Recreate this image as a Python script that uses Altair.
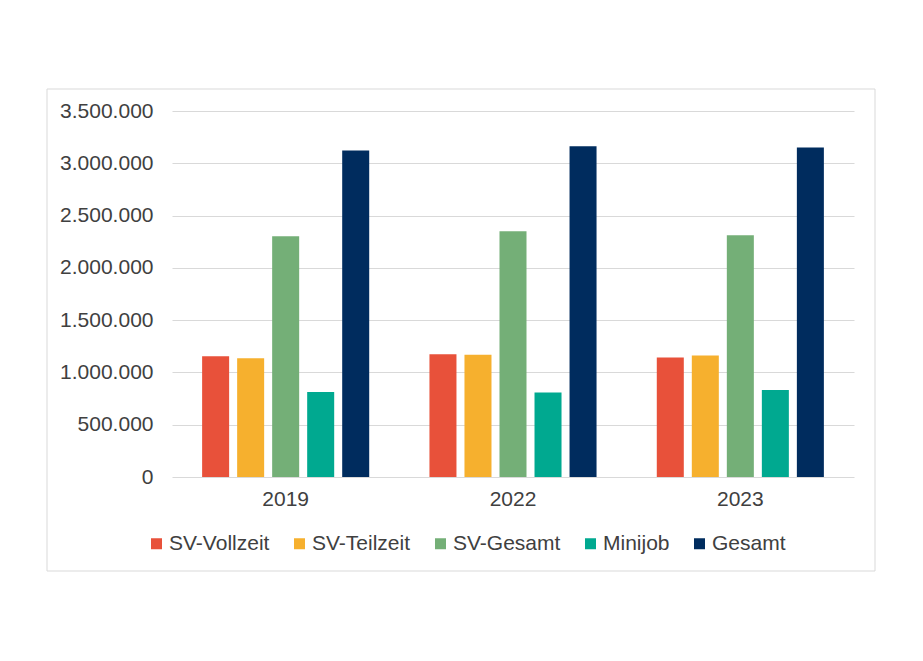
import altair as alt
import pandas as pd

years = ["2019", "2022", "2023"]
series = ["SV-Vollzeit", "SV-Teilzeit", "SV-Gesamt", "Minijob", "Gesamt"]
colors = ["#E8513A", "#F6B02E", "#74AF77", "#00A990", "#002C5E"]

values = {
    "SV-Vollzeit": [1154000, 1173000, 1142000],
    "SV-Teilzeit": [1135000, 1170000, 1161000],
    "SV-Gesamt":   [2302000, 2350000, 2312000],
    "Minijob":     [813000, 807000, 832000],
    "Gesamt":      [3122000, 3163000, 3151000],
}

rows = []
for s in series:
    for y, v in zip(years, values[s]):
        rows.append({"Jahr": y, "Art": s, "Wert": v})
df = pd.DataFrame(rows)

font = "Liberation Sans"
txt = "#404040"

bars = alt.Chart(df).mark_bar().encode(
    x=alt.X("Jahr:N", sort=years, title=None,
            scale=alt.Scale(paddingInner=0.265, paddingOuter=0.1325),
            axis=alt.Axis(labelAngle=0, labelFontSize=21, labelPadding=11, labelColor=txt,
                          labelFont=font, ticks=False, domain=False, grid=False)),
    xOffset=alt.XOffset("Art:N", sort=series,
                        scale=alt.Scale(paddingInner=0.2286, paddingOuter=0)),
    y=alt.Y("Wert:Q", title=None,
            scale=alt.Scale(domain=[0, 3500000], nice=False),
            axis=alt.Axis(values=[0, 500000, 1000000, 1500000, 2000000, 2500000, 3000000, 3500000],
                          format=",d", labelFontSize=21, labelPadding=19, labelColor=txt,
                          labelFont=font, ticks=False, domain=False,
                          gridColor="#D9D9D9", gridWidth=1)),
    color=alt.Color("Art:N", sort=series, title=None,
                    scale=alt.Scale(domain=series, range=colors),
                    legend=alt.Legend(orient="none", direction="horizontal", legendX=-26, legendY=422,
                                      symbolType="square", symbolSize=121, symbolStrokeWidth=0,
                                      labelFontSize=21, labelFont=font, labelColor=txt,
                                      labelOffset=2, columnPadding=19, padding=0,
                                      columns=5)),
)

border = alt.Chart(pd.DataFrame({"a": [0]})).mark_rect(
    fill=None, stroke="#D9D9D9", strokeWidth=1, clip=False
).encode(
    x=alt.value(-125), x2=alt.value(703), y=alt.value(-22), y2=alt.value(460)
)

chart = alt.layer(border, bars).properties(
    width=682, height=366,
    padding={"left": 164, "top": 103, "right": 40, "bottom": 150},
    autosize=alt.AutoSizeParams(type="none"),
).configure(
    locale={"number": {"decimal": ",", "thousands": ".", "grouping": [3], "currency": ["", " €"]}}
).configure_view(strokeWidth=0, stroke="transparent")

chart.save("out.html", embed_options={"renderer": "svg", "actions": False})
